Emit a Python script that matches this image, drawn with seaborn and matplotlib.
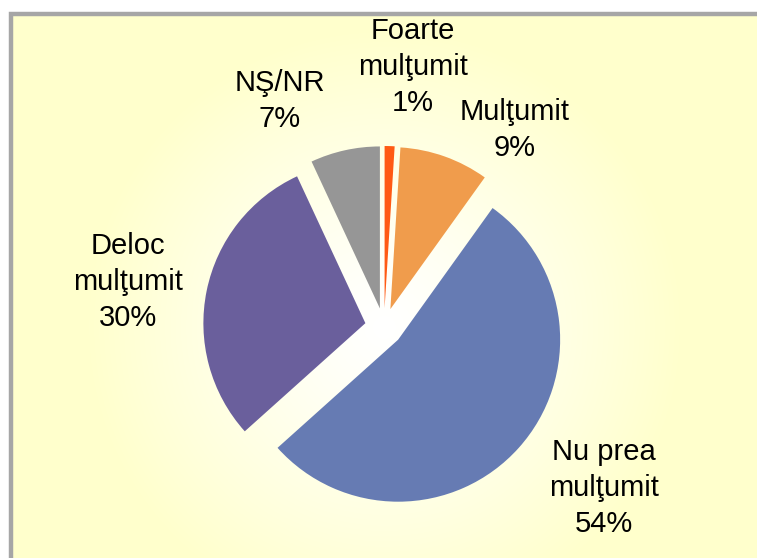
import numpy as np
import seaborn as sns
import matplotlib
matplotlib.use("Agg")
import matplotlib.pyplot as plt

# ── Data ──────────────────────────────────────────────────────────────
categories = ["Foarte\nmulţumit", "Mulţumit", "Nu prea\nmulţumit", "Deloc\nmulţumit", "NŞ/NR"]
shares     = [1, 9, 54, 30, 7]
colors     = ["#ff5a14", "#f09c4c", "#667bb3", "#6a5f9c", "#969696"]

# ── Layout (pixel coordinates, y measured up from bottom) ─────────────
W, H       = 757, 558
CENTER     = (384, 231)
RADIUS     = 162
EXPLODE    = 19
LABEL_XY   = [(413, 491), (515, 428), (604, 70), (128, 276), (280, 457)]

sns.set_theme(style="white")
plt.rcParams["font.family"] = ["Liberation Sans", "DejaVu Sans"]

fig = plt.figure(figsize=(W / 100, H / 100), dpi=100)
ax = fig.add_axes([0, 0, 1, 1])

# radial background gradient: white at the pie, pale yellow outside
yy, xx = np.mgrid[0:H, 0:W]
r = np.hypot(xx - CENTER[0], (H - yy) - CENTER[1])
t = np.clip(r / 300, 0, 1) ** 1.2
white = np.array([1.0, 1.0, 1.0])
yellow = np.array([1.0, 1.0, 0.80])
bg = white[None, None, :] * (1 - t[..., None]) + yellow[None, None, :] * t[..., None]
bg[:13, :, :] = 1.0
bg[:, :9, :] = 1.0
ax.imshow(bg, extent=(0, W, 0, H), origin="upper", zorder=0, interpolation="bilinear")

wedges, _ = ax.pie(
    shares,
    colors=colors,
    startangle=90,
    counterclock=False,
    center=CENTER,
    radius=RADIUS,
    explode=[EXPLODE] * len(shares),
    wedgeprops=dict(linewidth=0, zorder=2),
)

for cat, val, (x, y) in zip(categories, shares, LABEL_XY):
    ax.text(x, y, f"{cat}\n{val}%", ha="center", va="center",
            fontsize=21, linespacing=1.35, color="black", zorder=3)

# frame (top and left edges visible)
ax.plot([10.5, 10.5, W + 5], [-5, 544.5, 544.5], color="#a6a6a6", lw=3.2,
        solid_joinstyle="miter", zorder=4)

ax.set_xlim(0, W)
ax.set_ylim(0, H)
ax.set_aspect("equal")
ax.axis("off")

fig.savefig("out.png", dpi=100)
